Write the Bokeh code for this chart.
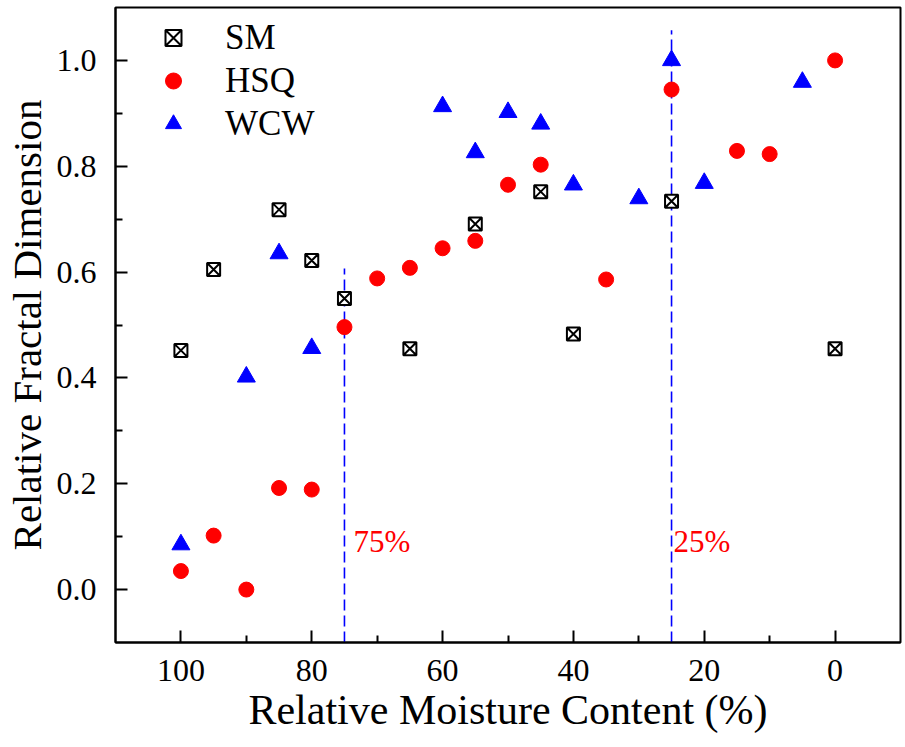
from bokeh.plotting import figure
from bokeh.models import Range1d, FixedTicker, Legend, LegendItem, NumeralTickFormatter
from bokeh.core.properties import value
from bokeh.embed import file_html
from bokeh.resources import INLINE

# ---- data ----
sm_x = [100, 95, 85, 80, 75, 65, 55, 45, 40, 25, 0]
sm_y = [0.452, 0.605, 0.718, 0.622, 0.550, 0.455, 0.691, 0.752, 0.483, 0.734, 0.455]

hsq_x = [100, 95, 90, 85, 80, 75, 70, 65, 60, 55, 50, 45, 35, 25, 15, 10, 0]
hsq_y = [0.035, 0.102, 0.0, 0.192, 0.189, 0.496, 0.588, 0.608, 0.645, 0.659,
         0.765, 0.803, 0.586, 0.945, 0.829, 0.823, 1.0]

wcw_x = [100, 90, 85, 80, 60, 55, 50, 45, 40, 30, 25, 20, 5]
wcw_y = [0.085, 0.402, 0.635, 0.456, 0.913, 0.826, 0.902, 0.880, 0.765, 0.739,
         1.0, 0.768, 0.959]

vline_x = [75, 25]
vline_y0 = [-0.1, -0.1]
vline_y1 = [0.607, 1.057]

note_x = [73.6, 24.7]
note_y = [0.091, 0.091]
note_text = ["75%", "25%"]

x_major = [0, 20, 40, 60, 80, 100]
x_minor = [10, 30, 50, 70, 90]
y_major = [0.0, 0.2, 0.4, 0.6, 0.8, 1.0]
y_minor = [0.1, 0.3, 0.5, 0.7, 0.9]

FONT = "Liberation Serif"

p = figure(frame_width=785, frame_height=635,
           x_range=Range1d(110, -10), y_range=Range1d(-0.1, 1.1),
           output_backend="svg", toolbar_location=None,
           min_border_left=115, min_border_right=2, min_border_top=7, min_border_bottom=0)

p.xgrid.visible = False
p.ygrid.visible = False
p.outline_line_color = "black"
p.outline_line_width = 2
p.background_fill_color = "white"

p.xaxis.ticker = FixedTicker(ticks=x_major, minor_ticks=x_minor)
p.yaxis.ticker = FixedTicker(ticks=y_major, minor_ticks=y_minor)
p.yaxis.formatter = NumeralTickFormatter(format="0.0")

for ax in (p.xaxis[0], p.yaxis[0]):
    ax.axis_line_width = 2
    ax.axis_line_color = "black"
    ax.major_tick_in = 12
    ax.major_tick_out = 0
    ax.minor_tick_in = 7
    ax.minor_tick_out = 0
    ax.major_tick_line_width = 2
    ax.minor_tick_line_width = 2
    ax.major_label_text_font = FONT
    ax.major_label_text_font_size = "32px"
    ax.major_label_text_color = "black"
    ax.axis_label_text_font = FONT
    ax.axis_label_text_font_style = "normal"
    ax.axis_label_text_color = "black"

p.xaxis.axis_label = "Relative Moisture Content (%)"
p.yaxis.axis_label = "Relative Fractal Dimension"
p.xaxis.axis_label_text_font_size = "42px"
p.yaxis.axis_label_text_font_size = "41px"
p.xaxis.major_label_standoff = 17
p.xaxis.axis_label_standoff = 3
p.yaxis.major_label_standoff = 19
p.yaxis.axis_label_standoff = 4

# dashed reference lines
p.segment(x0=vline_x, y0=vline_y0, x1=vline_x, y1=vline_y1,
          line_color="blue", line_width=1.6, line_dash="11 5")

r_sm = p.scatter(sm_x, sm_y, marker="square_x", size=13, fill_color="white",
                 line_color="black", line_width=2)
r_hsq = p.scatter(hsq_x, hsq_y, marker="circle", size=15, fill_color="red",
                  line_color="red", line_width=1)
r_wcw = p.scatter(wcw_x, wcw_y, marker="triangle", size=18, fill_color="blue",
                  line_color="blue", line_width=1)

p.text(x=note_x, y=note_y, text=note_text, text_color="red",
       text_font=value(FONT), text_font_size="31px", text_baseline="middle",
       text_align="left")

legend = Legend(items=[LegendItem(label="SM", renderers=[r_sm]),
                       LegendItem(label="HSQ", renderers=[r_hsq]),
                       LegendItem(label="WCW", renderers=[r_wcw])],
                location=(38, 497))
legend.border_line_color = None
legend.background_fill_alpha = 0
legend.label_text_font = FONT
legend.label_text_font_size = "35px"
legend.label_text_color = "black"
legend.glyph_width = 40
legend.glyph_height = 43
legend.label_height = 43
legend.spacing = 0
legend.padding = 0
legend.margin = 0
legend.label_standoff = 32
p.add_layout(legend)

open("out.html", "w").write(file_html(p, INLINE))
